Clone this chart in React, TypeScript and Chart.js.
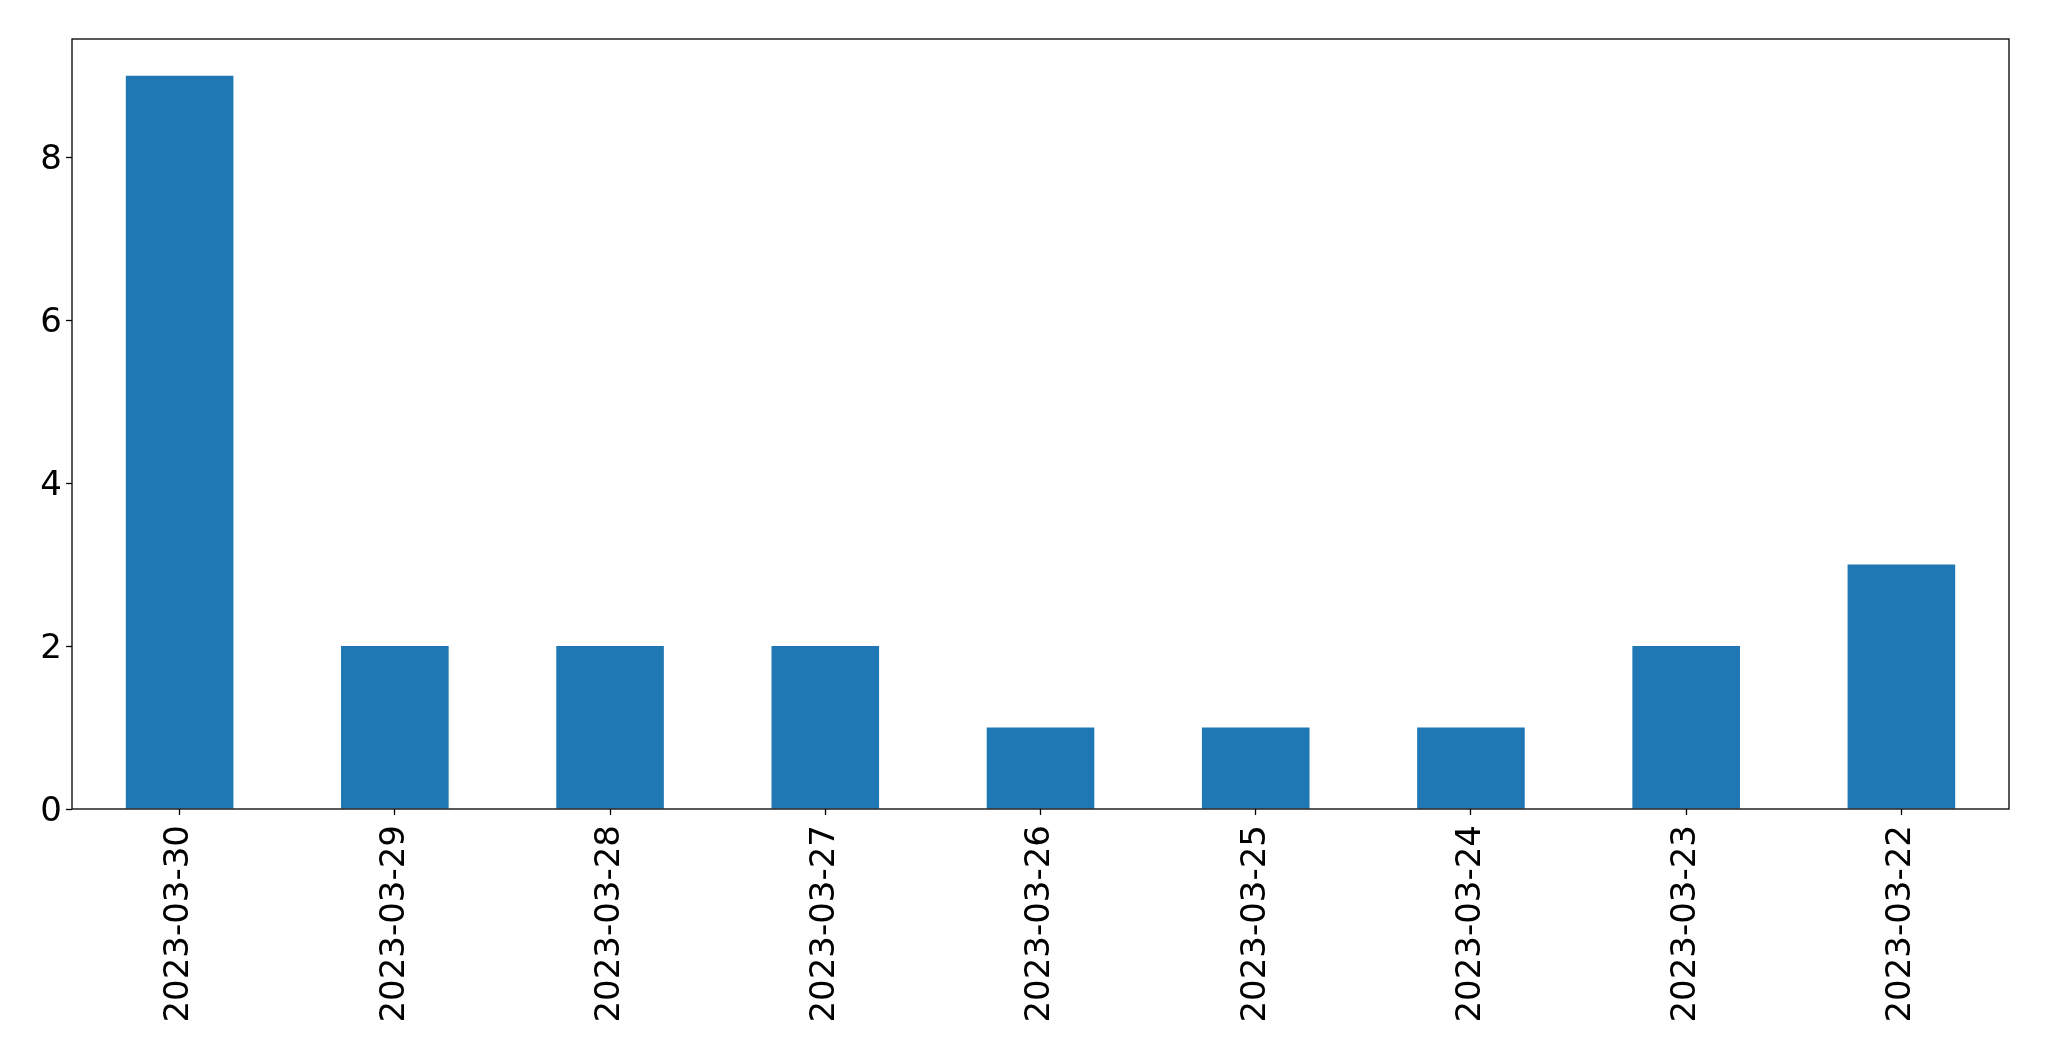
import React, { useEffect, useRef } from "react";
import { Chart, registerables } from "chart.js";

Chart.register(...registerables);

const dateLabels = [
  "2023-03-30",
  "2023-03-29",
  "2023-03-28",
  "2023-03-27",
  "2023-03-26",
  "2023-03-25",
  "2023-03-24",
  "2023-03-23",
  "2023-03-22",
];
const counts = [9, 2, 2, 2, 1, 1, 1, 2, 3];
const yTickValues = [0, 2, 4, 6, 8];
const yMin = 0;
const yMax = 9.45;

const W = 2049;
const H = 1061;

const framePlugin = {
  id: "frame",
  afterDraw(chart: any) {
    const { ctx, chartArea } = chart;
    ctx.save();
    ctx.strokeStyle = "#000";
    ctx.lineWidth = 1.3;
    ctx.strokeRect(
      chartArea.left,
      chartArea.top,
      chartArea.right - chartArea.left,
      chartArea.bottom - chartArea.top
    );
    ctx.restore();
  },
};

export default function App() {
  const ref = useRef<HTMLCanvasElement | null>(null);

  useEffect(() => {
    if (!ref.current) return;
    const font = { family: "'DejaVu Sans', sans-serif", size: 34 };
    const chart = new Chart(ref.current, {
      type: "bar",
      data: {
        labels: dateLabels,
        datasets: [
          {
            data: counts,
            backgroundColor: "#1f77b4",
            borderWidth: 0,
            categoryPercentage: 1,
            barPercentage: 0.5,
          },
        ],
      },
      plugins: [framePlugin],
      options: {
        responsive: false,
        animation: false,
        devicePixelRatio: 1,
        layout: { padding: { top: 39, right: 40, left: 0, bottom: 0 } },
        plugins: {
          legend: { display: false },
          tooltip: { enabled: false },
        },
        scales: {
          x: {
            offset: true,
            border: { display: false },
            grid: {
              offset: false,
              drawOnChartArea: false,
              drawTicks: true,
              tickLength: 6,
              tickWidth: 1.3,
              tickColor: "#000",
              color: "#000",
            },
            ticks: {
              color: "#000",
              font,
              minRotation: 90,
              maxRotation: 90,
              padding: 10,
              autoSkip: false,
            },
            afterFit: (scale: any) => {
              scale.height = 252;
            },
          },
          y: {
            min: yMin,
            max: yMax,
            border: { display: false },
            grid: {
              drawOnChartArea: false,
              drawTicks: true,
              tickLength: 6,
              tickWidth: 1.3,
              tickColor: "#000",
              color: "#000",
            },
            ticks: {
              color: "#000",
              font,
              padding: 4,
              labelOffset: 3,
            },
            afterBuildTicks: (scale: any) => {
              scale.ticks = yTickValues.map((v) => ({ value: v }));
            },
            afterFit: (scale: any) => {
              scale.width = 72;
            },
          },
        },
      },
    } as any);
    return () => chart.destroy();
  }, []);

  return (
    <div style={{ position: "fixed", left: 0, top: 0, width: W, height: H, background: "#fff" }}>
      <canvas ref={ref} width={W} height={H} style={{ width: W, height: H, display: "block" }} />
    </div>
  );
}
